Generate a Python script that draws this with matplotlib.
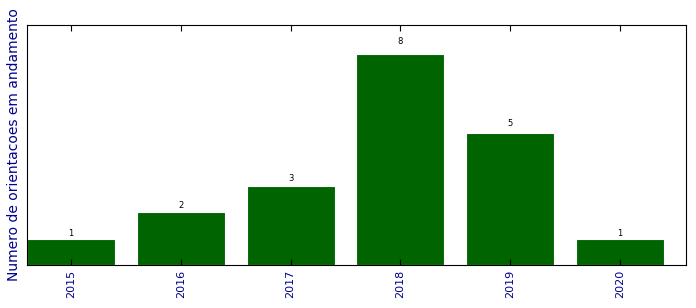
import matplotlib
matplotlib.use("Agg")
import matplotlib.pyplot as plt

anos = ["2015", "2016", "2017", "2018", "2019", "2020"]
orientacoes = [1, 2, 3, 8, 5, 1]

fig = plt.figure(figsize=(6.96, 3.08), dpi=100)
ax = fig.add_axes([0.0388, 0.1396, 0.9468, 0.7792])

pos = list(range(len(anos)))
bars = ax.bar(pos, orientacoes, width=0.8, color="#006400", edgecolor="white", linewidth=0.8)

for b, v in zip(bars, orientacoes):
    ax.text(b.get_x() + b.get_width() / 2, 1.04 * v, str(v), ha="center", va="bottom", fontsize=6)

ax.set_xlim(-0.4, 5.6)
ax.set_ylim(0, 9.1)
ax.set_xticks(pos)
ax.set_xticklabels(anos, rotation=90, color="darkblue", fontsize=8)
ax.set_yticks([])
ax.tick_params(axis="x", direction="in", top=True, length=4)
ax.set_ylabel("Numero de orientacoes em andamento", color="darkblue", fontsize=10, labelpad=4)

fig.savefig("out.png", dpi=100)
